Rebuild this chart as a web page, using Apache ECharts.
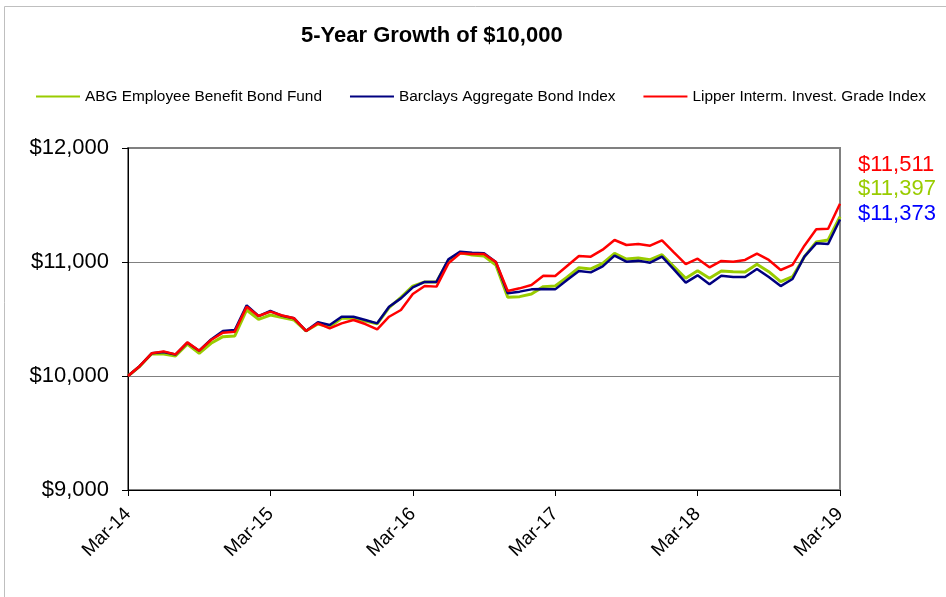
<!DOCTYPE html>
<html>
<head>
<meta charset="utf-8">
<title>5-Year Growth of $10,000</title>
<script src="https://cdn.jsdelivr.net/npm/echarts@6/dist/echarts.min.js"></script>
<style>
  html, body { margin: 0; padding: 0; background: #fff; }
  #chart { width: 946px; height: 597px; }
</style>
</head>
<body>
<div id="chart"></div>
<script>
// month labels, Mar-14 .. Mar-19
const monthNames = ['Jan', 'Feb', 'Mar', 'Apr', 'May', 'Jun', 'Jul', 'Aug', 'Sep', 'Oct', 'Nov', 'Dec']
const categories = []
for (let i = 0; i <= 60; i++) {
  const m = (2 + i) % 12
  const y = 14 + Math.floor((2 + i) / 12)
  categories.push(monthNames[m] + '-' + y)
}

const seriesNames = [
  'ABG Employee Benefit Bond Fund',
  'Barclays Aggregate Bond Index',
  'Lipper Interm. Invest. Grade Index'
]

// values
const abgFund = [
  10000, 10085, 10195, 10193, 10175, 10280, 10199, 10287, 10345, 10351,
  10579, 10497, 10535, 10512, 10491, 10395, 10456, 10432, 10506, 10506,
  10482, 10458, 10600, 10690, 10789, 10825, 10825, 11015, 11080, 11061,
  11053, 10974, 10690, 10696, 10719, 10784, 10789, 10866, 10950, 10939,
  10988, 11076, 11026, 11035, 11020, 11064, 10959, 10857, 10924, 10857,
  10921, 10915, 10912, 10980, 10915, 10827, 10871, 11047, 11175, 11193,
  11397
]
const barclaysIndex = [
  10000, 10088, 10199, 10210, 10188, 10292, 10222, 10320, 10395, 10404,
  10620, 10526, 10570, 10528, 10506, 10395, 10471, 10447, 10520, 10520,
  10491, 10462, 10608, 10681, 10778, 10825, 10825, 11023, 11091, 11082,
  11076, 11000, 10725, 10740, 10760, 10763, 10760, 10842, 10921, 10909,
  10962, 11056, 11003, 11012, 10994, 11047, 10936, 10819, 10883, 10804,
  10880, 10868, 10868, 10939, 10868, 10789, 10851, 11047, 11164, 11158,
  11373
]
const lipperIndex = [
  10000, 10088, 10199, 10216, 10190, 10295, 10222, 10316, 10380, 10389,
  10608, 10526, 10565, 10531, 10506, 10395, 10462, 10418, 10462, 10491,
  10456, 10409, 10520, 10579, 10719, 10789, 10784, 10988, 11076, 11070,
  11070, 11000, 10746, 10769, 10798, 10880, 10877, 10965, 11053, 11047,
  11108, 11193, 11149, 11158, 11143, 11190, 11085, 10982, 11029, 10953,
  11009, 11003, 11018, 11073, 11018, 10930, 10974, 11143, 11287, 11292,
  11511
]

const lineColors = ['#99CC00', '#000080', '#FF0000']
const endLabelColors = ['#FF0000', '#99CC00', '#0000FF']

const money = v => '$' + v.toLocaleString('en-US')
const font = '"Liberation Sans", Arial, sans-serif'

const chart = echarts.init(document.getElementById('chart'))

// end values stacked at the right, red / green / blue
const endValues = [lipperIndex, abgFund, barclaysIndex].map(a => a[a.length - 1])
const endLabelY = [166, 190, 215]

const option = {
  animation: false,
  backgroundColor: '#fff',
  textStyle: { fontFamily: font },
  title: {
    text: '5-Year Growth of $10,000',
    left: 301,
    top: 25,
    padding: 0,
    textStyle: { fontSize: 22, fontWeight: 'bold', color: '#000', fontFamily: font }
  },
  legend: {
    left: 36,
    top: 89,
    padding: 0,
    itemWidth: 44,
    itemHeight: 14,
    itemGap: 28,
    icon: 'path://M0,6 L44,6 L44,8 L0,8 Z',
    textStyle: { fontSize: 15.4, color: '#000', fontFamily: font },
    data: seriesNames
  },
  grid: {
    left: 128,
    right: 106,
    top: 148,
    bottom: 107,
    show: true,
    borderColor: '#808080',
    borderWidth: 2
  },
  xAxis: {
    type: 'category',
    boundaryGap: false,
    data: categories,
    axisLine: { lineStyle: { color: '#000', width: 1 } },
    axisTick: { interval: 11, length: 6, lineStyle: { color: '#000' } },
    axisLabel: {
      interval: 11,
      rotate: 45,
      margin: 21,
      fontSize: 19,
      color: '#000',
      fontFamily: font
    },
    splitLine: { show: false }
  },
  yAxis: {
    type: 'value',
    min: 9000,
    max: 12000,
    interval: 1000,
    axisLine: { show: true, lineStyle: { color: '#000', width: 1 } },
    axisTick: { show: true, length: 6, lineStyle: { color: '#000' } },
    axisLabel: {
      margin: 19,
      fontSize: 22,
      color: '#000',
      fontFamily: font,
      formatter: v => money(v)
    },
    splitLine: { lineStyle: { color: '#808080', width: 1 } }
  },
  series: [abgFund, barclaysIndex, lipperIndex].map((data, i) => ({
    name: seriesNames[i],
    type: 'line',
    data: data,
    symbol: 'none',
    color: lineColors[i],
    lineStyle: { color: lineColors[i], width: i === 0 ? 3 : 2.5 },
    z: 2 + i
  })),
  graphic: [
    {
      type: 'rect',
      silent: true,
      shape: { x: 4.5, y: 6.5, width: 980, height: 640 },
      style: { fill: 'none', stroke: '#BFBFBF', lineWidth: 1 }
    }
  ].concat(endValues.map((v, i) => ({
    type: 'text',
    silent: true,
    left: 858,
    top: endLabelY[i] - 12,
    style: {
      text: money(v),
      fill: endLabelColors[i],
      font: '22px ' + font
    }
  })))
}

chart.setOption(option)
</script>
</body>
</html>
